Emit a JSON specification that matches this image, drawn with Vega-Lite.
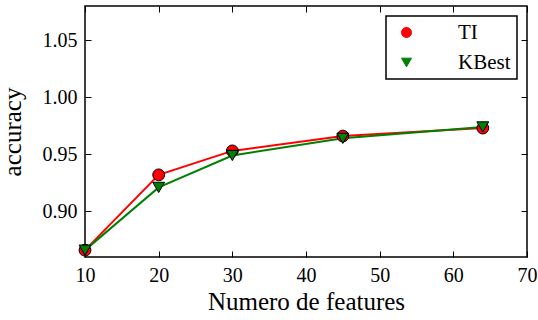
{
  "$schema": "https://vega.github.io/schema/vega-lite/v6.json",
  "width": 442,
  "height": 251,
  "autosize": {"type": "none"},
  "padding": {"left": 85, "top": 6, "right": 11, "bottom": 63},
  "background": "white",
  "data": {
    "values": [
      {"features": 10, "accuracy": 0.866, "method": "TI"},
      {"features": 20, "accuracy": 0.932, "method": "TI"},
      {"features": 30, "accuracy": 0.953, "method": "TI"},
      {"features": 45, "accuracy": 0.966, "method": "TI"},
      {"features": 64, "accuracy": 0.973, "method": "TI"},
      {"features": 10, "accuracy": 0.866, "method": "KBest"},
      {"features": 20, "accuracy": 0.921, "method": "KBest"},
      {"features": 30, "accuracy": 0.949, "method": "KBest"},
      {"features": 45, "accuracy": 0.964, "method": "KBest"},
      {"features": 64, "accuracy": 0.974, "method": "KBest"}
    ]
  },
  "layer": [
    {
      "transform": [{"filter": "false"}],
      "mark": {"type": "point", "filled": true, "opacity": 1, "size": 144},
      "encoding": {
        "x": {"field": "features", "type": "quantitative", "scale": {"domain": [10, 70], "nice": false, "zero": false},
          "axis": {"orient": "top", "values": [10, 20, 30, 40, 50, 60, 70], "labels": false, "title": null}},
        "y": {"field": "accuracy", "type": "quantitative", "scale": {"domain": [0.86, 1.08], "nice": false, "zero": false},
          "axis": {"orient": "right", "values": [0.9, 0.95, 1.0, 1.05], "labels": false, "title": null}},
        "color": {"field": "method", "type": "nominal", "scale": {"domain": ["TI", "KBest"], "range": ["#ff0000", "#008000"]}, "title": null,
          "legend": {
            "encode": {
              "symbols": {"update": {
                "shape": {"signal": "datum.value === 'TI' ? 'M1,0L0.924,0.383L0.707,0.707L0.383,0.924L0,1L-0.383,0.924L-0.707,0.707L-0.924,0.383L-1,0L-0.924,-0.383L-0.707,-0.707L-0.383,-0.924L0,-1L0.383,-0.924L0.707,-0.707L0.924,-0.383Z M1,-0.12L4,-0.12L4,0.12L1,0.12Z M6,0L5.924,0.383L5.707,0.707L5.383,0.924L5,1L4.617,0.924L4.293,0.707L4.076,0.383L4,0L4.076,-0.383L4.293,-0.707L4.617,-0.924L5,-1L5.383,-0.924L5.707,-0.707L5.924,-0.383Z' : 'M-1,-0.9L1,-0.9L0,1.1Z M0.6,-0.12L4.4,-0.12L4.4,0.12L0.6,0.12Z M4,-0.9L6,-0.9L5,1.1Z'"},
                "stroke": {"value": "black"},
                "strokeWidth": {"value": 1}
              }}
            }
          }}
      }
    },
    {
      "mark": {"type": "line", "strokeWidth": 2, "clip": true},
      "encoding": {
        "x": {"field": "features", "type": "quantitative",
          "axis": {"orient": "bottom", "values": [10, 20, 30, 40, 50, 60, 70], "title": "Numero de features", "format": "d", "labelFlush": false}},
        "y": {"field": "accuracy", "type": "quantitative",
          "axis": {"orient": "left", "values": [0.9, 0.95, 1.0, 1.05], "title": "accuracy", "format": ".2f", "labelFlush": false}},
        "stroke": {"field": "method", "type": "nominal", "scale": {"domain": ["TI", "KBest"], "range": ["#ff0000", "#008000"]}, "legend": null},
        "detail": {"field": "method"}
      }
    },
    {
      "mark": {"type": "point", "filled": true, "stroke": "black", "strokeWidth": 1, "opacity": 1, "size": 140},
      "encoding": {
        "x": {"field": "features", "type": "quantitative", "axis": null},
        "y": {"field": "accuracy", "type": "quantitative", "axis": null},
        "fill": {"field": "method", "type": "nominal", "scale": {"domain": ["TI", "KBest"], "range": ["#ff0000", "#008000"]}, "legend": null},
        "shape": {"field": "method", "type": "nominal", "scale": {"domain": ["TI", "KBest"], "range": ["circle", "triangle-down"]}, "legend": null}
      }
    }
  ],
  "resolve": {"axis": {"x": "independent", "y": "independent"}},
  "config": {
    "font": "Liberation Serif",
    "style": {"guide-label": {"font": "Liberation Serif"}, "guide-title": {"font": "Liberation Serif"}},
    "view": {"stroke": "black", "strokeWidth": 1.5},
    "axis": {
      "domain": false,
      "grid": false,
      "tickColor": "black",
      "tickSize": -6,
      "tickWidth": 1,
      "labelFont": "Liberation Serif",
      "labelFontSize": 20,
      "labelColor": "black",
      "labelPadding": 14,
      "titleFont": "Liberation Serif",
      "titleFontSize": 25,
      "titleFontWeight": "normal",
      "titleColor": "black"
    },
    "axisBottom": {"titlePadding": 4},
    "axisLeft": {"titlePadding": 17},
    "legend": {
      "orient": "top-right",
      "offset": 10,
      "padding": 6,
      "symbolOffset": 4,
      "strokeColor": "black",
      "strokeWidth": 1.5,
      "fillColor": "white",
      "cornerRadius": 0,
      "labelFont": "Liberation Serif",
      "labelFontSize": 21,
      "labelColor": "black",
      "labelOffset": 41,
      "rowPadding": 8,
      "symbolStrokeWidth": 1,
      "symbolStrokeColor": "black",
      "symbolOpacity": 1
    }
  }
}
